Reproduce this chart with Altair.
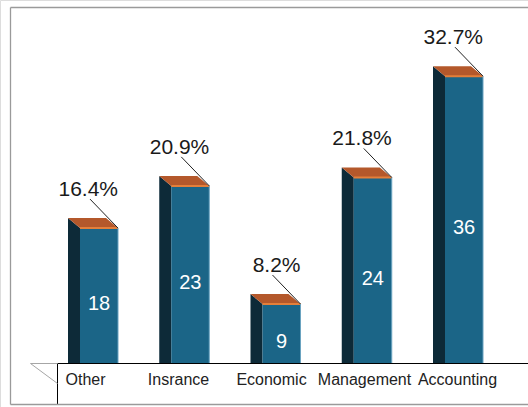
import altair as alt
import pandas as pd

# ---- data ----
categories = ["Other", "Insrance", "Economic", "Management", "Accounting"]
counts = [18, 23, 9, 24, 36]
percents = ["16.4%", "20.9%", "8.2%", "21.8%", "32.7%"]

# ---- layout (pixels -> scale units) ----
W, H = 528, 407
SLOT_PX = 91.25              # px per category slot
PX_PER_VAL = 8.44            # px per count unit
BASE_PX = 380                # pixel row of value 0
XMAX = W / SLOT_PX
YMAX = BASE_PX / PX_PER_VAL
YMIN = YMAX - H / PX_PER_VAL

FRONT0 = 80 / SLOT_PX        # left of first front face
BW = 38 / SLOT_PX            # front face width
DX = 12 / SLOT_PX            # depth offset (x)
DY = 10 / PX_PER_VAL         # depth offset (y)
LABEL_MID = 271.5 / SLOT_PX  # centre of category label row
LABEL_STEP = 93.0 / SLOT_PX  # spacing of category labels

xs = alt.Scale(domain=[0, XMAX], nice=False, zero=False)
ys = alt.Scale(domain=[YMIN, YMAX], nice=False, zero=False)
X = lambda f: alt.X(f, type="quantitative", scale=xs, axis=None)
Y = lambda f: alt.Y(f, type="quantitative", scale=ys, axis=None)

front_rows, side_rows, top_rows, lbl_rows = [], [], [], []
for i, (c, v, p) in enumerate(zip(categories, counts, percents)):
    L = FRONT0 + i
    R = L + BW
    front_rows.append(dict(cat=c, x=L, x2=R, y=0, y2=v, ym=v / 2, xm=(L + R) / 2, val=str(v)))
    side_rows += [dict(cat=c, x=L - DX, top=v + DY, bot=DY), dict(cat=c, x=L, top=v, bot=0)]
    top_rows += [
        dict(cat=c, x=L - DX, top=v + DY, bot=v + DY),
        dict(cat=c, x=L, top=v + DY, bot=v),
        dict(cat=c, x=R - DX, top=v + DY, bot=v),
        dict(cat=c, x=R, top=v, bot=v),
    ]
    lbl_rows.append(dict(cat=c, pct=p, tx=R, ty=v + 32 / PX_PER_VAL,
                         lx=R - 28 / SLOT_PX, ly=v + 29 / PX_PER_VAL, ex=R, ey=v,
                         cx=LABEL_MID + LABEL_STEP * (i - 2), L=L, R=R, v=v))

front = pd.DataFrame(front_rows)
side = pd.DataFrame(side_rows)
top = pd.DataFrame(top_rows)
lbl = pd.DataFrame(lbl_rows)

FRONT_C = "#1b6587"
SIDE_C = "#0d2a38"
TOP_C = "#b4582b"
EDGE_C = "#e47f3a"
FONT = "Liberation Sans"

side_layer = alt.Chart(side).mark_area(color=SIDE_C, interpolate="linear").encode(
    x=X("x"), y=Y("top"), y2="bot", detail="cat:N")
top_layer = alt.Chart(top).mark_area(color=TOP_C, interpolate="linear").encode(
    x=X("x"), y=Y("top"), y2="bot", detail="cat:N")
front_layer = alt.Chart(front).mark_rect(color=FRONT_C).encode(
    x=X("x"), x2="x2", y=Y("y"), y2="y2")
edge_layer = alt.Chart(lbl).mark_rule(color=EDGE_C, strokeWidth=2).encode(
    x=X("L"), x2="R", y=Y("v"))
hl_layer = alt.Chart(lbl).mark_rule(color="#6aa3c0", strokeWidth=1).encode(
    x=X("R"), y=Y("v"), y2=alt.datum(0))
val_layer = alt.Chart(front).mark_text(color="white", font=FONT, fontSize=20,
                                       baseline="middle", align="center").encode(
    x=X("xm"), y=Y("ym"), text="val:N")
pct_layer = alt.Chart(lbl).mark_text(color="#1a1a1a", font=FONT, fontSize=21,
                                     baseline="alphabetic", align="right").encode(
    x=X("tx"), y=Y("ty"), text="pct:N")
lead_layer = alt.Chart(lbl).mark_rule(color="#222222", strokeWidth=1).encode(
    x=X("lx"), x2="ex", y=Y("ly"), y2="ey")

one = pd.DataFrame({"a": [0]})
# axis strip (covers bar bottoms): white panel with black top and left edges
strip = alt.Chart(one).mark_rect(fill="white").encode(
    x=alt.value(57.5), x2=alt.value(528), y=alt.value(363.5), y2=alt.value(407))
strip_t = alt.Chart(one).mark_rule(color="black", strokeWidth=1).encode(
    x=alt.value(57.5), x2=alt.value(528), y=alt.value(363.5))
strip_l = alt.Chart(one).mark_rule(color="black", strokeWidth=1).encode(
    x=alt.value(57.5), y=alt.value(363.5), y2=alt.value(404))
cat_layer = alt.Chart(lbl).mark_text(color="#222222", font=FONT, fontSize=16,
                                     baseline="alphabetic", align="center").encode(
    x=X("cx"), y=alt.value(385), text="cat:N")
floor_h = alt.Chart(one).mark_rule(color="#a6a6a6").encode(
    x=alt.value(30.5), x2=alt.value(57.5), y=alt.value(363.5), y2=alt.value(363.5))
floor_d = alt.Chart(one).mark_rule(color="#a6a6a6").encode(
    x=alt.value(30.5), x2=alt.value(57.5), y=alt.value(363.5), y2=alt.value(383.5))
# outer frame: left, top and bottom edges (right edge lies off the picture)
frame_v = alt.Chart(one).mark_rule(color="#9a9a9a", strokeWidth=1.3).encode(
    x=alt.value(10.5), y=alt.value(7.5), y2=alt.value(404.5))
frame_t = alt.Chart(one).mark_rule(color="#9a9a9a", strokeWidth=1.3).encode(
    x=alt.value(10.5), x2=alt.value(528), y=alt.value(7.5))
frame_b = alt.Chart(one).mark_rule(color="#9a9a9a", strokeWidth=1.3).encode(
    x=alt.value(10.5), x2=alt.value(528), y=alt.value(404.5))

chart = alt.layer(
    side_layer, front_layer, top_layer, edge_layer, hl_layer, val_layer,
    lead_layer, pct_layer, strip, strip_t, strip_l, floor_h, floor_d, cat_layer,
    frame_v, frame_t, frame_b
).properties(
    width=W, height=H, padding=0, autosize=alt.AutoSizeParams(type="none")
).configure_view(stroke=None).configure(background="white")

chart.save("out.html", embed_options={"renderer": "svg", "actions": False})
